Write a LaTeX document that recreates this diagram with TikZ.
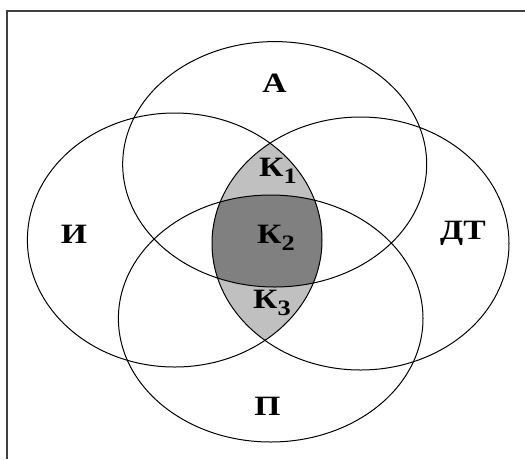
\documentclass[tikz,border=0pt]{standalone}
\usepackage{fontspec}
\setmainfont{Liberation Serif}[FakeStretch=1.2]
\newcommand{\ksub}[1]{К\raisebox{-0.55ex}{\fontsize{22}{22}\selectfont #1}}
\definecolor{lensgray}{HTML}{C0C0C0}
\definecolor{coregray}{HTML}{808080}
\tikzset{
  set/.style={draw=black, line width=1pt},
  frameline/.style={draw=black!75, line width=1.4pt},
  lbl/.style={font=\fontsize{28}{30}\selectfont\bfseries, inner sep=0pt}
}
\begin{document}
\begin{tikzpicture}[x=1pt,y=-1pt]
\useasboundingbox (0,0) rectangle (525,459);
\coordinate (A) at (274.7,164.3);
\coordinate (P) at (270.7,318.5);
\coordinate (I) at (174.7,240);
\coordinate (DT) at (360.5,243.5);

% shaded lens and core
\begin{scope}
\clip (I) ellipse (147.3 and 127);
\fill[lensgray] (DT) ellipse (148.5 and 126.5);
\end{scope}
\begin{scope}
\clip (I) ellipse (147.3 and 127);
\clip (DT) ellipse (148.5 and 126.5);
\clip (A) ellipse (152 and 122.7);
\fill[coregray] (P) ellipse (152.3 and 123.5);
\end{scope}

\draw[set] (A) ellipse (152 and 122.7);
\draw[set] (P) ellipse (152.3 and 123.5);
\draw[set] (I) ellipse (147.3 and 127);
\draw[set] (DT) ellipse (148.5 and 126.5);

\draw[frameline] (525,11) -- (7,11) -- (7,459);

\node[lbl] (labA) at (274.5,83) {А};
\node[lbl] (labI) at (74,234.5) {И};
\node[lbl] (labDT) at (463,233) {ДТ};
\node[lbl] (labP) at (267.5,406.5) {П};
\node[lbl] (labK1) at (278,171) {\ksub{1}};
\node[lbl] (labK2) at (276,238) {\ksub{2}};
\node[lbl] (labK3) at (272,303) {\ksub{3}};
\end{tikzpicture}
\end{document}
